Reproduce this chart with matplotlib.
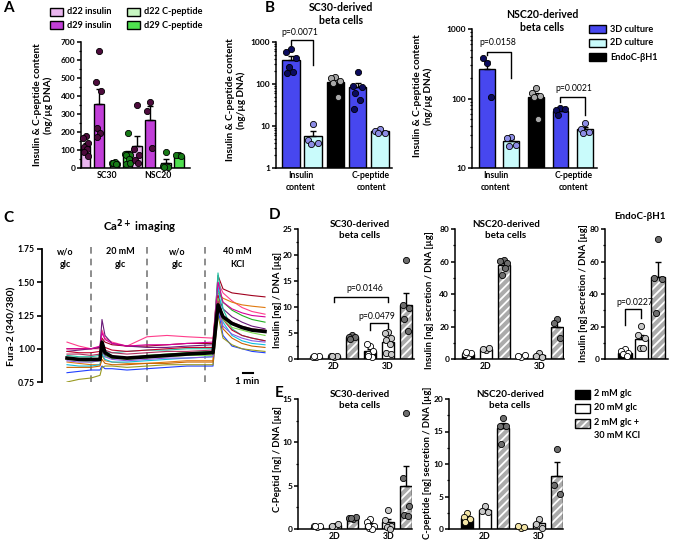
import numpy as np
import matplotlib
matplotlib.use("Agg")
import matplotlib.pyplot as plt
from matplotlib.patches import Rectangle
from matplotlib.ticker import AutoMinorLocator, LogLocator, NullFormatter

plt.rcParams['font.family'] = ['Lato', 'DejaVu Sans']
plt.rcParams['font.weight'] = 'bold'
plt.rcParams['hatch.linewidth'] = 1.3
plt.rcParams['axes.linewidth'] = 1.1

W, H = 676, 546

# ---------------- data ----------------
# A: insulin / C-peptide content (ng/ug DNA)
a_groups = ["SC30", "NSC20"]
a_series = ["d22 insulin", "d29 insulin", "d22 C-peptide", "d29 C-peptide"]
a_sc30_d22_ins = [180, 165, 140, 115, 105, 90, 65]
a_sc30_d29_ins = [650, 478, 430, 220, 195, 175]
a_sc30_d22_cpep = [35, 30, 25, 30, 20]
a_sc30_d29_cpep = [196, 80, 75, 70, 52, 24, 30]
a_nsc20_d22_ins = [348, 105, 70, 45, 30]
a_nsc20_d29_ins = [367, 315, 110]
a_nsc20_d22_cpep = [89, 12, 5, 6]
a_nsc20_d29_cpep = [72, 70, 65]

# B: 3D vs 2D culture vs EndoC-bH1 (log scale)
b_series = ["3D culture", "2D culture", "EndoC-βH1"]
b_sc30_ins_3d = [680, 565, 410, 260, 196, 186]
b_sc30_ins_2d = [11.2, 4.6, 4.0, 3.8]
b_sc30_endo = [150, 138, 118, 105, 50]
b_sc30_cpep_3d = [196, 90, 83, 60, 42, 26]
b_sc30_cpep_2d = [8.5, 7.6, 7.0, 6.7]
b_nsc20_ins_3d = [320, 378, 106]
b_nsc20_ins_2d = [28, 27, 21.5, 21]
b_nsc20_endo = [140, 119, 110, 106, 50]
b_nsc20_cpep_3d = [72, 68, 70, 58]
b_nsc20_cpep_2d = [44, 37, 32.6, 31.5]

# C: Ca2+ imaging, Fura-2 ratio (time in 1/10 min-bar units)
c_time = [0, 1.2, 2.4, 3.3, 3.5, 3.8, 4.5, 6, 8, 10, 12, 14.6, 15.1, 15.6, 16.5, 17.5, 18.5, 19.8]
c_mean = [0.93, 0.92, 0.92, 0.92, 1.05, 0.97, 0.94, 0.93, 0.94, 0.95, 0.96, 0.97, 1.33, 1.24, 1.19, 1.16, 1.14, 1.13]
c_cells = [
    [1.05, 1.02, 1.00, 1.00, 1.14, 1.08, 1.05, 1.02, 1.09, 1.10, 1.09, 1.08, 1.50, 1.42, 1.36, 1.31, 1.28, 1.26],
    [1.00, 1.00, 1.00, 1.01, 1.08, 1.05, 1.03, 1.02, 1.02, 1.03, 1.04, 1.04, 1.55, 1.45, 1.42, 1.41, 1.40, 1.39],
    [0.98, 0.99, 1.00, 1.01, 1.22, 1.10, 1.04, 1.02, 1.01, 1.01, 1.02, 1.03, 1.40, 1.30, 1.24, 1.20, 1.17, 1.15],
    [0.90, 0.89, 0.88, 0.88, 0.95, 0.91, 0.90, 0.89, 0.89, 0.90, 0.91, 0.91, 1.42, 1.38, 1.35, 1.33, 1.32, 1.31],
    [0.93, 0.92, 0.91, 0.92, 1.00, 0.95, 0.93, 0.93, 0.95, 0.96, 0.97, 0.98, 1.45, 1.35, 1.29, 1.25, 1.22, 1.20],
    [0.95, 0.94, 0.94, 0.95, 1.02, 0.98, 0.97, 0.98, 0.99, 0.99, 1.00, 1.00, 1.57, 1.30, 1.15, 1.10, 1.08, 1.06],
    [0.88, 0.87, 0.87, 0.88, 0.96, 0.92, 0.90, 0.90, 0.91, 0.92, 0.93, 0.94, 1.48, 1.20, 1.10, 1.06, 1.04, 1.03],
    [0.82, 0.83, 0.84, 0.84, 0.87, 0.85, 0.85, 0.84, 0.85, 0.86, 0.87, 0.87, 1.30, 1.10, 1.02, 1.00, 0.98, 0.97],
    [0.75, 0.77, 0.78, 0.80, 0.86, 0.87, 0.87, 0.86, 0.87, 0.88, 0.88, 0.88, 1.25, 1.08, 1.03, 1.00, 0.99, 0.98],
    [1.00, 1.00, 1.00, 1.02, 1.12, 1.07, 1.04, 1.02, 1.03, 1.03, 1.04, 1.05, 1.50, 1.35, 1.30, 1.27, 1.25, 1.24],
    [0.98, 0.97, 0.97, 0.98, 1.05, 1.01, 0.99, 0.98, 0.99, 1.00, 1.01, 1.01, 1.40, 1.22, 1.14, 1.10, 1.08, 1.06],
    [0.92, 0.91, 0.90, 0.91, 0.98, 0.94, 0.93, 0.92, 0.93, 0.94, 0.95, 0.95, 1.38, 1.22, 1.16, 1.14, 1.12, 1.10],
    [0.86, 0.86, 0.86, 0.87, 0.92, 0.89, 0.88, 0.88, 0.89, 0.89, 0.90, 0.90, 1.35, 1.15, 1.08, 1.04, 1.02, 1.01],
    [0.91, 0.90, 0.90, 0.91, 0.99, 0.94, 0.92, 0.91, 0.92, 0.93, 0.93, 0.94, 1.32, 1.17, 1.11, 1.08, 1.06, 1.05],
    [0.96, 0.96, 0.95, 0.96, 1.03, 0.99, 0.97, 0.96, 0.97, 0.98, 0.98, 0.99, 1.36, 1.25, 1.20, 1.17, 1.15, 1.14],
]
c_colors = ['#ff3d8b', '#a0001e', '#6a1b7a', '#e07a10', '#22b022', '#20c0a0', '#10c0e0', '#1f3fff',
            '#9a9a20', '#d6009a', '#c0002a', '#7cdc50', '#c86400', '#8a5ae2', '#b03060']
c_phases = ["w/o\nglc", "20 mM\nglc", "w/o\nglc", "40 mM\nKCl"]
c_switch = [2.4, 8.0, 13.8]

# D / E: secretion, conditions 2 mM glc, 20 mM glc, 2 mM glc + 30 mM KCl
de_conditions = ["2 mM glc", "20 mM glc", "2 mM glc +\n30 mM KCl"]
d_sc30_2d = [[0.3, 0.4, 0.5, 0.5], [0.4, 0.5, 0.5, 0.6], [4.6, 4.3, 4.2, 3.8]]
d_sc30_3d = [[2.5, 2.8, 1.5, 1.0, 0.4, 0.6], [5.1, 5.0, 4.0, 3.6, 2.8, 1.15, 1.0], [19.1, 10.3, 9.8, 7.6, 5.4]]
d_nsc20_2d = [[2.0, 2.8, 4.0, 4.5], [5.5, 6.2, 6.8], [61, 60.4, 59, 51.5, 56]]
d_nsc20_3d = [[1.5, 2.0, 2.2], [3.5, 1.8, 1.2], [24.5, 22.0, 13.0]]
d_endo = [[6.0, 5.0, 3.5, 3.0, 2.0], [20.6, 15.0, 13.0, 6.8, 7.0], [73.8, 50.1, 49.1, 28.5]]
e_sc30_2d = [[0.2, 0.3, 0.3, 0.35], [0.3, 0.4, 0.55], [1.1, 1.25, 1.35, 1.3]]
e_sc30_3d = [[1.2, 0.8, 0.4, 0.1, 0.05, 0.3], [2.2, 1.0, 0.4, 0.2, 0.0], [13.4, 5.9, 2.6, 1.6, 1.5]]
e_nsc20_2d = [[2.5, 1.8, 1.5, 1.1], [3.55, 2.8, 2.6], [17.1, 15.9, 15.8, 13.1]]
e_nsc20_3d = [[0.2, 0.4, 0.3], [1.6, 0.8, 0.2], [12.3, 6.8, 5.35]]

# ---------------- helpers ----------------
fig = plt.figure(figsize=(W / 100, H / 100), dpi=100)


def add_ax(l, t, r, b):
    return fig.add_axes([l / W, 1 - b / H, (r - l) / W, (b - t) / H])


def style(ax):
    ax.spines['top'].set_visible(False)
    ax.spines['right'].set_visible(False)
    ax.tick_params(axis='y', length=3, width=1.1, labelsize=6.0, pad=1.2)
    ax.tick_params(axis='y', which='minor', length=1.8, width=0.9)
    ax.tick_params(axis='x', length=0, labelsize=6.2, pad=2)


def ftext(x, y, s, **kw):
    kw.setdefault('ha', 'center')
    kw.setdefault('va', 'center')
    kw.setdefault('fontsize', 6.8)
    fig.text(x / W, 1 - y / H, s, **kw)


def ylabel(x, y, s, size=6.8):
    ftext(x, y, s, rotation=90, fontsize=size, multialignment='center')


SPREAD = [0, -0.9, 0.9, -0.45, 0.45, -0.7, 0.7, 0.2]


def bar_dots(ax, x, pts, color, dot_color, width, hatch=False, bottom=0):
    pts = np.asarray(pts, float)
    mean = pts.mean()
    sem = pts.std(ddof=1) / np.sqrt(len(pts))
    if hatch:
        ax.bar(x, mean - bottom, width, bottom=bottom, color='#ababab', edgecolor='white',
               lw=0, hatch='////', zorder=2)
        ax.bar(x, mean - bottom, width, bottom=bottom, fill=False, edgecolor='k', lw=1, zorder=3)
    else:
        ax.bar(x, mean - bottom, width, bottom=bottom, color=color, edgecolor='k', lw=1, zorder=2)
    ax.errorbar(x, mean, yerr=[[0], [sem]], fmt='none', ecolor='k', elinewidth=1,
                capsize=2.5, capthick=1, zorder=4)
    offs = np.array(SPREAD[:len(pts)]) * width * 0.3
    ax.scatter(x + offs, pts, s=20, color=dot_color, edgecolor='k', lw=0.6, zorder=5, clip_on=False)


def bracket(ax, x0, x1, y, yl0, yl1, label, ty, tx=None):
    ax.plot([x0, x0, x1, x1], [yl0, y, y, yl1], color='k', lw=1, clip_on=False, zorder=6)
    if tx is None:
        tx = (x0 + x1) / 2
    ax.text(tx, ty, label, ha='center', va='center', fontsize=6.2, fontweight='normal', clip_on=False)


def legend_item(x, y, w, h, label, fc, hatch=False):
    if hatch:
        fig.add_artist(Rectangle((x / W, 1 - (y + h / 2) / H), w / W, h / H, transform=fig.transFigure,
                                 facecolor='#ababab', edgecolor='white', lw=0, hatch='////'))
        fig.add_artist(Rectangle((x / W, 1 - (y + h / 2) / H), w / W, h / H, transform=fig.transFigure,
                                 fill=False, edgecolor='k', lw=1))
    else:
        fig.add_artist(Rectangle((x / W, 1 - (y + h / 2) / H), w / W, h / H, transform=fig.transFigure,
                                 facecolor=fc, edgecolor='k', lw=1))
    ftext(x + w + 4, y, label, ha='left', fontsize=6.6)


# ---------------- panel A ----------------
a_colors = ['#e9b5ee', '#c13fd8', '#c8f7c2', '#4fe04f']
a_dots = ['#4d0b3c', '#4d0b3c', '#167a16', '#167a16']
a_data = [[a_sc30_d22_ins, a_sc30_d29_ins, a_sc30_d22_cpep, a_sc30_d29_cpep],
          [a_nsc20_d22_ins, a_nsc20_d29_ins, a_nsc20_d22_cpep, a_nsc20_d29_cpep]]
a_offs = [-0.41, -0.155, 0.155, 0.41]
axA = add_ax(81, 42, 190, 168)
style(axA)
for g, group in enumerate(a_data):
    for k, pts in enumerate(group):
        bar_dots(axA, g + a_offs[k], pts, a_colors[k], a_dots[k], 0.19)
axA.set_ylim(0, 700)
axA.set_yticks(range(0, 701, 100))
axA.yaxis.set_minor_locator(AutoMinorLocator(2))
axA.set_xlim(-0.5, 1.63)
axA.set_xticks([0, 1])
axA.set_xticklabels(a_groups)
ylabel(43, 105, "Insulin & C-peptide content\n(ng/µg DNA)", 7.2)
legend_item(50, 12, 13, 8, a_series[0], a_colors[0])
legend_item(50, 25, 13, 8, a_series[1], a_colors[1])
legend_item(127, 12, 13, 8, a_series[2], a_colors[2])
legend_item(127, 25, 13, 8, a_series[3], a_colors[3])

# ---------------- panel B ----------------
b_colors = ['#4747ef', '#c9fbfb', '#000000']
b_dots = ['#0b0b5e', '#8d8de6', '#a8a8a8']
b_cols = [0, 1, 2, 0, 1]

axB1 = add_ax(276, 42, 392, 168)
style(axB1)
axB1.set_yscale('log')
for k, pts in enumerate([b_sc30_ins_3d, b_sc30_ins_2d, b_sc30_endo, b_sc30_cpep_3d, b_sc30_cpep_2d]):
    bar_dots(axB1, k, pts, b_colors[b_cols[k]], b_dots[b_cols[k]], 0.78, bottom=1)
axB1.set_ylim(1, 1000)
axB1.set_xlim(-0.67, 4.54)
axB1.set_yticks([1, 10, 100, 1000])
axB1.set_yticklabels(['1', '10', '100', '1000'])
axB1.yaxis.set_minor_locator(LogLocator(base=10, subs=np.arange(2, 10)))
axB1.yaxis.set_minor_formatter(NullFormatter())
axB1.set_xticks([0.45, 3.6])
axB1.set_xticklabels(["Insulin\ncontent", "C-peptide\ncontent"], linespacing=1.5)
bracket(axB1, 0, 1, 1120, 850, 285, "p=0.0071", 1650, 0.4)
ylabel(236, 100, "Insulin & C-peptide content\n(ng/µg DNA)", 7.2)
ftext(341, 14, "SC30-derived\nbeta cells", fontsize=7.6, linespacing=1.3)

axB2 = add_ax(472, 29, 597, 168)
style(axB2)
axB2.set_yscale('log')
for k, pts in enumerate([b_nsc20_ins_3d, b_nsc20_ins_2d, b_nsc20_endo, b_nsc20_cpep_3d, b_nsc20_cpep_2d]):
    bar_dots(axB2, k, pts, b_colors[b_cols[k]], b_dots[b_cols[k]], 0.65, bottom=10)
axB2.set_ylim(10, 1000)
axB2.set_xlim(-0.61, 4.49)
axB2.set_yticks([10, 100, 1000])
axB2.set_yticklabels(['10', '100', '1000'])
axB2.yaxis.set_minor_locator(LogLocator(base=10, subs=np.arange(2, 10)))
axB2.yaxis.set_minor_formatter(NullFormatter())
axB2.set_xticks([0.35, 3.55])
axB2.set_xticklabels(["Insulin\ncontent", "C-peptide\ncontent"], linespacing=1.5)
bracket(axB2, 0, 1, 470, 425, 196, "p=0.0158", 640, 0.46)
bracket(axB2, 3, 4, 104, 90, 58, "p=0.0021", 137, 3.55)
ylabel(423, 96, "Insulin & C-peptide content\n(ng/µg DNA)", 7.2)
ftext(542, 21, "NSC20-derived\nbeta cells", fontsize=7.6, linespacing=1.3)
for k in range(3):
    legend_item(589, 29 + 14 * k, 17, 8, b_series[k], b_colors[k])

# ---------------- panel C ----------------
axC = add_ax(42, 249, 270, 382)
for s in ['top', 'right', 'bottom']:
    axC.spines[s].set_visible(False)
axC.spines['left'].set_linewidth(1.3)
axC.tick_params(axis='y', length=3.5, width=1.2, labelsize=6.2, pad=1.5)
axC.tick_params(axis='x', bottom=False, labelbottom=False)
for vals, col in zip(c_cells, c_colors):
    axC.plot(c_time, vals, color=col, lw=0.8, zorder=2)
axC.plot(c_time, c_mean, color='k', lw=2.6, zorder=3)
axC.vlines(c_switch, 0.75, 1.78, colors='#7a7a7a', linestyles=(0, (4, 3)), lw=1.2, clip_on=False, zorder=1)
axC.set_ylim(0.75, 1.75)
axC.set_yticks([0.75, 1.00, 1.25, 1.50, 1.75])
axC.set_yticklabels(['0.75', '1.00', '1.25', '1.50', '1.75'])
axC.set_xlim(-2.5, 20.3)
phase_x = [-0.2, 5.3, 11.0, 17.0]
for px, lab in zip(phase_x, c_phases):
    axC.text(px, 1.68, lab, ha='center', va='center', fontsize=6.5, linespacing=1.6)
axC.plot([17.6, 18.6], [0.818, 0.818], color='k', lw=1.5, clip_on=False)
axC.text(18.0, 0.755, "1 min", ha='center', va='center', fontsize=7)
ftext(140, 227, "Ca$^{2+}$ imaging", fontsize=8.2)
ylabel(12, 326, "Fura-2 (340/380)", 7.4)

# ---------------- panels D / E ----------------
de_colors = ['#000000', '#ffffff', None]
de_dots_default = ['#ffffff', '#c8c8c8', '#6e6e6e']


def de_panel(box, groups, ylim, yticks, xlim, width, dots=de_dots_default):
    ax = add_ax(*box)
    style(ax)
    for g, conds in enumerate(groups):
        for k, pts in enumerate(conds):
            bar_dots(ax, g * 3 + k, pts, de_colors[k], dots[k], width, hatch=(k == 2))
    ax.set_ylim(*ylim)
    ax.set_yticks(yticks)
    ax.yaxis.set_minor_locator(AutoMinorLocator(2))
    ax.set_xlim(*xlim)
    if len(groups) > 1:
        ax.set_xticks([1, 4])
        ax.set_xticklabels(["2D", "3D"])
    else:
        ax.set_xticks([])
    return ax


axD1 = de_panel((298, 229, 414, 359), [d_sc30_2d, d_sc30_3d], (0, 25), range(0, 26, 5), (-1.0, 5.44), 0.65)
bracket(axD1, 1, 4, 11.9, 10.9, 10.9, "p=0.0146", 13.5, 2.7)
bracket(axD1, 3, 4, 6.9, 5.6, 5.9, "p=0.0479", 8.1, 3.4)
ylabel(277, 300, "Insulin [ng] / DNA [µg]")
ftext(360, 230, "SC30-derived\nbeta cells", fontsize=7.1, linespacing=1.3)

axD2 = de_panel((455, 229, 564, 359), [d_nsc20_2d, d_nsc20_3d], (0, 80), range(0, 81, 20), (-0.73, 5.39), 0.66)
ylabel(430, 300, "Insulin [ng] secretion / DNA [µg]")
ftext(506, 230, "NSC20-derived\nbeta cells", fontsize=7.1, linespacing=1.3)

axD3 = de_panel((605, 229, 668, 359), [d_endo], (0, 80), range(0, 81, 20), (-1.2, 2.6), 0.8)
bracket(axD3, 0, 1, 30.8, 21, 25, "p=0.0227", 34.5, 0.6)
ylabel(584, 293, "Insulin [ng] secretion / DNA [µg]")
ftext(640, 217, "EndoC-βH1", fontsize=7.1)

axE1 = de_panel((298, 399, 412, 529), [e_sc30_2d, e_sc30_3d], (0, 15), range(0, 16, 5), (-1.07, 5.34), 0.65)
ylabel(277, 459, "C-Peptid [ng] / DNA [µg]")
ftext(360, 400, "SC30-derived\nbeta cells", fontsize=7.1, linespacing=1.3)

axE2 = de_panel((449, 399, 563, 529), [e_nsc20_2d, e_nsc20_3d], (0, 20), range(0, 21, 5), (-1.0, 5.33), 0.66,
                dots=['#f2e4a6', '#c8c8c8', '#6e6e6e'])
ylabel(428, 463, "C-peptide [ng] secretion / DNA [µg]")
ftext(510, 400, "NSC20-derived\nbeta cells", fontsize=7.1, linespacing=1.3)

legend_item(575, 394, 15, 9, de_conditions[0], '#000000')
legend_item(575, 408, 15, 9, de_conditions[1], '#ffffff')
legend_item(575, 423, 15, 9, "", None, hatch=True)
ftext(594, 429, de_conditions[2], ha='left', fontsize=6.6, linespacing=1.5)

# panel letters
for lx, ly, lt in [(8, 8, "A"), (270, 8, "B"), (8, 218, "C"), (275, 215, "D"), (279, 393, "E")]:
    ftext(lx, ly, lt, fontsize=11)

fig.savefig("out.png", dpi=100)
